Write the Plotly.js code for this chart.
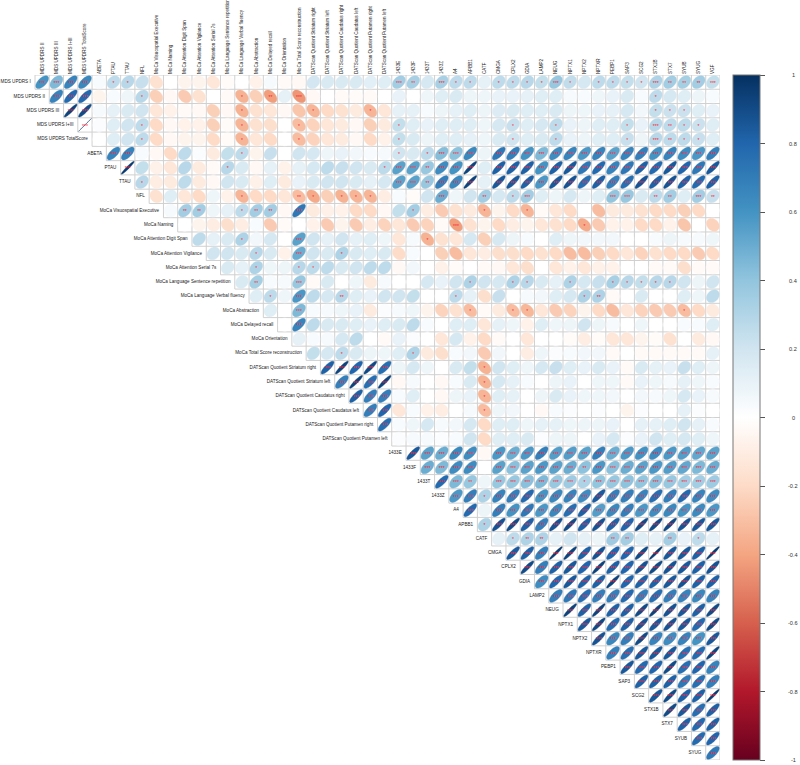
<!DOCTYPE html>
<html>
<head>
<meta charset="utf-8">
<script src="https://cdn.plot.ly/plotly-3.0.1.min.js"></script>
<style>html,body{margin:0;padding:0;background:#fff}#chart{width:800px;height:765px}</style>
</head>
<body>
<div id="chart"></div>
<script>
const labels = ["MDS UPDRS I","MDS UPDRS II","MDS UPDRS III","MDS UPDRS I+III","MDS UPDRS TotalScore","ABETA","PTAU","TTAU","NFL",
"MoCa Visuospatial Executive","MoCa Naming","MoCa Attention Digit Span","MoCa Attention Vigilance","MoCa Attention Serial 7s","MoCa Language Sentence repetition","MoCa Language Verbal fluency","MoCa Abstraction","MoCa Delayed recall","MoCa Orientation","MoCa Total Score reconstruction",
"DATScan Quotient Striatum right","DATScan Quotient Striatum left","DATScan Quotient Caudatus right","DATScan Quotient Caudatus left","DATScan Quotient Putamen right","DATScan Quotient Putamen left",
"1433E","1433F","1433T","1433Z","A4","APBB1","CATF","CMGA","CPLX2","GDIA","LAMP2","NEUG","NPTX1","NPTX2","NPTXR","PEBP1","SAP3","SCG2","STX1B","STX7","SYUB","SYUG","VGF"];

// correlation of each row variable with the variables to its right
const r00=[.6,.45,.67,.65,.03,.26,.28,.23, -.16,0,-.06,-.06,-.14,-.02,0,-.07,.04,-.03,-.04, .19,.16,.16,.16,.12,.14, .35,.33,.18,.33,.26,.26,.11, .26,.26,.28,.24,.38,.25,.18,.26,.26,.24,.2,.31,.35,.34,.35,.24];
const r01=[.67,.78,.78,-.06,.03,.07,.28, -.24,-.04,-.26,-.16,0,-.03,-.35,-.24,-.42,.11,-.44, -.04,0,-.03,-.02,-.03,0, .1,0,.07,.14,.16,.08,.07, .1,.1,.11,.14,.14,.04,.03,.07,.1,.16,.03,.26,.18,.14,.08,.03];
const r02=[.93,.9,.04,.11,.16,.2, -.14,-.07,-.03,-.04,-.24,-.04,-.35,-.16,-.14,-.04,-.28, -.34,-.2,-.16,-.11,-.34,-.14, .11,.11,.03,.08,.11,.14,.08, .15,.16,.14,.14,.16,.08,.07,.1,.11,.18,.06,.24,.22,.22,.14,.1];
const r03=[1,.02,.14,.2,.26, -.2,-.04,-.07,-.07,-.24,-.02,-.34,-.16,-.18,0,-.31, -.23,-.14,-.11,-.04,-.24,-.11, .24,.14,.1,.14,.14,.14,.07, .18,.23,.14,.18,.26,.1,.08,.14,.14,.24,.1,.28,.26,.26,.22,.14];
const r04=[0,.14,.2,.26, -.2,-.04,-.06,-.06,-.2,-.02,-.34,-.14,-.2,0,-.31, -.23,-.14,-.11,-.04,-.2,-.07, .24,.16,.08,.14,.14,.11,.07, .16,.2,.14,.16,.26,.1,.08,.14,.14,.23,.08,.28,.26,.26,.23,.14];
const r05=[.67,.67,.03, -.04,-.2,.26,.02,-.11,.24,.26,-.06,.23,0,.2, .18,.07,.1,.06,.03,.04, .2,.16,.26,.43,.41,.65,.08, .72,.69,.6,.45,.63,.67,.58,.67,.54,.67,.69,.6,.67,.63,.58,.69];
const r06=[.96,.24, -.08,-.14,.28,-.11,-.03,.28,.16,-.04,.11,-.07,.11, .18,.26,.23,.2,.16,.26, .54,.54,.38,.63,.6,.93,.14, .82,.82,.82,.6,.82,.85,.72,.78,.67,.72,.82,.78,.85,.8,.72,.85];
const r07=[.28, -.1,-.11,.26,-.11,-.04,.2,.16,-.08,.14,-.11,.1, .16,.2,.2,.16,.11,.18, .54,.54,.38,.69,.65,.93,.11, .85,.85,.82,.58,.85,.87,.76,.82,.69,.76,.87,.82,.87,.82,.78,.82];
const r08=[-.16,.14,-.14,-.2,.07,-.07,-.34,-.2,-.2,-.14,-.31, -.38,-.24,-.35,-.34,-.34,-.1, .03,-.02,.2,.5,.07,.2,.35, .18,.26,.35,.14,.08,.18,.08,.14,.4,.38,.16,.26,.35,.14,.35,.23];
const r09=[.04,.35,.35,.07,.11,.26,.35,.35,-.04,.72, -.11,-.08,-.07,-.2,-.2,-.04, .24,.35,-.1,-.26,-.16,-.11,-.34, -.06,-.2,-.34,-.03,-.14,-.2,0,-.31,-.11,-.11,-.16,-.2,-.2,-.24,-.2,0];
const r10=[0,-.06,-.1,-.18,-.1,.03,-.26,-.03,0, -.07,-.26,-.06,-.26,-.1,-.23, -.14,-.26,-.23,-.03,-.42,-.16,-.06, -.2,-.1,-.06,-.14,-.16,-.2,-.38,-.26,-.07,-.07,-.2,-.2,-.07,-.28,0,-.23];
const r11=[.26,.11,.16,.31,.06,.18,0,.54, .2,.11,.2,.11,.14,.07, -.14,.04,-.35,-.16,-.14,.18,-.24, .18,.08,.03,0,.14,.07,.06,.06,.06,0,0,.03,.08,.04,.04,.07];
const r12=[.2,.2,.16,.28,.16,-.07,.5, .2,.16,.31,.16,.14,.16, -.19,.03,0,-.24,-.31,-.14,-.1, -.18,-.18,-.2,-.16,-.2,-.31,-.31,-.24,-.2,-.14,-.23,-.16,-.2,-.2,-.26,-.2];
const r13=[.16,.11,.31,.07,.08,.28, .26,.26,.16,.2,.26,.26, -.04,.06,0,-.08,-.02,0,-.03, -.04,-.14,-.18,0,-.14,-.07,-.14,-.08,-.07,0,0,-.03,-.03,-.18,-.03,-.03];
const r14=[.16,.34,.03,.04,.38, -.03,.16,0,.07,-.11,.04, 0,0,.18,.1,.2,.31,.2, .18,.31,.28,.16,.11,.31,.18,.23,.33,.28,.24,.28,.28,.2,.08,.2];
const r15=[.14,.26,.07,.58, .26,.18,.28,.14,.1,.2, .2,.24,0,0,.26,.11,-.18, .23,0,.04,.06,.14,.18,.31,.31,-.03,0,.16,0,0,.14,.07,.26];
const r16=[.14,0,.45, .03,.04,.07,.1,-.11,.02, .04,.07,-.06,-.23,-.16,-.31,-.03, -.11,-.31,-.33,-.14,-.26,-.23,-.06,-.2,-.31,-.14,-.23,-.26,-.26,-.31,-.2,-.11];
const r17=[0,.67, .26,.16,.16,.14,.1,.14, .16,.26,.03,0,.14,.14,-.14, .11,.07,-.07,.14,.07,.08,.2,.08,.04,0,.07,0,0,.03,.03,.14];
const r18=[.11, .03,.04,.18,.26,0,-.03, .1,.02,0,-.14,.18,-.07,-.2, -.03,0,-.14,0,0,-.02,-.1,-.02,-.14,-.14,-.06,-.02,-.16,0,-.11,-.04];
const r19=[.24,.18,.26,.16,.08,.07, .14,.31,-.11,-.18,.03,.06,-.26, .06,0,-.1,.07,.02,.03,.06,.06,-.03,0,-.03,-.03,-.03,-.03,-.03,.11];
const r20=[.82,.93,.8,.91,.76, .08,.18,.07,0,.16,.24,-.35, .2,.14,.07,.18,.23,.14,.1,.16,.1,-.03,.16,.11,.1,.23,.14,.08];
const r21=[.69,.93,.76,.93, -.04,.04,0,-.04,.03,.16,-.35, .18,.11,.03,0,.08,.1,0,.07,.07,-.03,.1,.07,.04,.11,.07,.03];
const r22=[.82,.69,.69, .03,.14,0,-.04,.08,.1,-.34, .14,.11,0,.08,.16,.1,.07,.07,.06,0,.06,.04,.07,.18,.1,.04];
const r23=[.69,.8, -.14,.03,-.07,-.1,0,.04,-.31, .07,.06,0,-.04,.03,.02,0,.02,0,-.06,.02,0,0,.11,.02,0];
const r24=[.76, .03,.07,.18,.04,.06,.18,-.2, .14,.14,.07,.11,.11,.07,.08,.08,.1,0,.11,.11,.14,.2,.11,.03];
const r25=[.02,.04,.04,.02,.03,.2,-.2, .14,.14,.16,.02,.08,.08,0,.1,.18,.02,.1,.2,.14,.18,.14,.07];
const r26=[.85,.54,.5,.65,.63,-.04, .58,.5,.58,.69,.56,.56,.54,.69,.5,.58,.61,.63,.58,.56,.52,.54];
const r27=[.5,.45,.63,.63,0, .54,.42,.54,.58,.54,.5,.41,.58,.42,.5,.54,.58,.56,.52,.45,.5];
const r28=[.78,.45,.38,.07, .38,.38,.42,.45,.38,.36,.31,.4,.38,.41,.4,.42,.38,.35,.35,.36];
const r29=[.58,.69,.31, .67,.69,.78,.6,.65,.67,.63,.84,.69,.69,.67,.76,.69,.78,.67,.63];
const r30=[.78,.08, .69,.6,.72,.58,.65,.76,.82,.56,.65,.69,.58,.63,.65,.6,.64,.58];
const r31=[.31, .87,.9,.82,.69,.87,.9,.82,.87,.82,.8,.9,.9,.91,.87,.85,.85];
const r32=[.11,.26,.31,.31,.11,.2,.11,.08,.36,.35,.14,.11,.35,.1,.26,.11];
const r33=[.84,.82,.69,.96,.93,.82,.87,.8,.8,.9,.96,.85,.85,.82,.96];
const r34=[.9,.69,.82,.85,.8,.93,.82,.8,.87,.9,.87,.85,.82,.87];
const r35=[.63,.8,.85,.82,.82,.93,.8,.82,.82,.85,.87,.82,.82];
const r36=[.69,.72,.76,.69,.69,.78,.69,.76,.69,.67,.65,.67];
const r37=[.93,.82,.93,.82,.82,.9,.93,.87,.85,.82,.9];
const r38=[.85,.91,.78,.82,.87,.85,.87,.85,.78,.9];
const r39=[.87,.65,.69,.9,.67,.63,.67,.6,.85];
const r40=[.69,.76,.85,.85,.85,.76,.78,.93];
const r41=[.85,.78,.8,.9,.76,.8,.67];
const r42=[.82,.82,.82,.72,.76,.69];
const r43=[.85,.9,.82,.82,.96];
const r44=[.9,.85,.76,.82];
const r45=[.82,.78,.82];
const r46=[.78,.8];
const r47=[.72];
const valueRows=[r00,r01,r02,r03,r04,r05,r06,r07,r08,r09,r10,r11,r12,r13,r14,r15,r16,r17,r18,r19,r20,r21,r22,r23,r24,r25,r26,r27,r28,r29,r30,r31,r32,r33,r34,r35,r36,r37,r38,r39,r40,r41,r42,r43,r44,r45,r46,r47];

// number of significance stars in each of those cells
const starRows=[
"33330110"+"00000000000"+"000000"+"3203110"+"1111310111132223",
"3330001"+"00000010203"+"000000"+"0000000"+"0000000000010000",
"330000"+"00000010000"+"100010"+"0000000"+"0000000000011100",
"30001"+"00000010001"+"000000"+"1000000"+"0100100001032110",
"0001"+"00000010001"+"000000"+"1000000"+"0100100001032110",
"330"+"00000010000"+"000000"+"1013330"+"3333333333333333",
"30"+"00000100000"+"000001"+"3323330"+"3333333333333333",
"1"+"00000000000"+"000000"+"3323330"+"3333333333333333",
"00000010002"+"101110"+"0003002"+"0130000033022032",
"0220012203"+"000000"+"0100001"+"0010000000000000",
"000000000"+"000000"+"0000300"+"0000001000000000",
"00010003"+"000000"+"0010000"+"0000000000000000",
"0001003"+"001000"+"0000000"+"0000000000000000",
"001001"+"100000"+"0000000"+"0000000000000000",
"02003"+"000000"+"0000010"+"0110010011111000",
"0103"+"002000"+"0000100"+"0000001200000000",
"003"+"000000"+"0000010"+"0110000000000100",
"03"+"000000"+"0000000"+"0000000000000000",
"0"+"000000"+"0000000"+"0000000000000000",
"001000"+"0100000"+"0000000000000000",
"33333"+"0000001"+"0000000000000000",
"3333"+"0000001"+"0000000000000000",
"333"+"0000001"+"0000000000000000",
"33"+"0000001"+"0000000000000000",
"3"+"0000000"+"0000000000000000",
"0000000"+"0000000000000000",
"333330"+"3333333333333333",
"33330"+"3333332333333333",
"3320"+"3333331333333333",
"331"+"3333333333333333",
"30"+"3333333333333333",
"1"+"3333333333333333",
"0122000022002010",
"333333333333333","33333333333333","3333333333333","333333333333","33333333333","3333333333","333333333","33333333","3333333","333333","33333","3333","333","33","3"];

const ramp = ["#67001F","#B2182B","#D6604D","#F4A582","#FDDBC7","#FFFFFF","#D1E5F0","#92C5DE","#4393C3","#2166AC","#053061"];
const legendTicks = [1,0.8,0.6,0.4,0.2,0,-0.2,-0.4,-0.6,-0.8,-1];

valueRows.forEach((row,i)=>{
  if(row.length!==48-i) throw new Error("values row "+i+" has "+row.length);
  if(starRows[i].length!==48-i) throw new Error("stars row "+i+" has "+starRows[i].length);
});

function hex(h){return [1,3,5].map(k=>parseInt(h.substr(k,2),16));}
function colourOf(v){
  const p=(v+1)/2*(ramp.length-1), a=Math.min(Math.floor(p),ramp.length-2), f=p-a;
  const A=hex(ramp[a]),B=hex(ramp[a+1]);
  return "rgb("+A.map((q,k)=>Math.round(q+(B[k]-q)*f)).join(",")+")";
}

const plotRight=720, cellPx=685/48;
const traces=[];
// cell grid of the upper triangle
const gx=[],gy=[];
for(let k=0;k<=48;k++){
  gx.push(Math.max(k-1,0),48,null); gy.push(k,k,null);
  gx.push(k,k,null); gy.push(0,Math.min(k+1,48),null);
}
traces.push({type:"scatter",mode:"lines",x:gx,y:gy,line:{color:"#d0d0d0",width:1,simplify:false},hoverinfo:"skip",cliponaxis:false,showlegend:false});

// ellipses grouped by value so each colour is one trace
const groups=new Map();
const half=0.45, steps=36;
valueRows.forEach((row,i)=>row.forEach((v,j)=>{
  if(!groups.has(v)) groups.set(v,{x:[],y:[]});
  const g=groups.get(v), d=Math.acos(v), cx=i+j+0.5, cy=i+0.5;
  for(let s=0;s<=steps;s++){
    const t=2*Math.PI*s/steps;
    g.x.push(cx+half*Math.cos(t+d/2));
    g.y.push(cy-half*Math.cos(t-d/2));
  }
  g.x.push(null); g.y.push(null);
}));
groups.forEach((g,v)=>{
  const col=colourOf(v);
  traces.push({type:"scatter",mode:"lines",x:g.x,y:g.y,fill:"toself",fillcolor:col,line:{color:col,width:0.4,simplify:false},name:String(v),hoverinfo:"name",showlegend:false,cliponaxis:false});
});

// significance stars
const sx=[],sy=[],st=[];
starRows.forEach((row,i)=>[...row].forEach((n,j)=>{
  if(n!=="0"){ sx.push(i+j+0.5); sy.push(i+0.5+0.1); st.push("*".repeat(+n)); }
}));
traces.push({type:"scatter",mode:"text",x:sx,y:sy,text:st,textposition:"middle center",textfont:{family:"Liberation Sans",size:5,color:"#ff2030"},hoverinfo:"skip",showlegend:false,cliponaxis:false});

// row labels beside the first cell of each row
const rowNames=labels.slice(0,48);
traces.push({type:"scatter",mode:"text",x:rowNames.map((_,i)=>i-0.3),y:rowNames.map((_,i)=>i+0.5),text:rowNames,textposition:"middle left",textfont:{family:"Liberation Sans",size:4.6,color:"#222"},hoverinfo:"skip",showlegend:false,cliponaxis:false});

// colour legend
traces.push({type:"scatter",mode:"markers",x:[0.5],y:[47.5],hoverinfo:"skip",showlegend:false,
  marker:{size:1,opacity:0,color:[0],cmin:-1,cmax:1,
    colorscale:ramp.map((c,i)=>[i/(ramp.length-1),c]),showscale:true,
    colorbar:{x:733/plotRight,xanchor:"left",y:0.5,yanchor:"middle",len:1,lenmode:"fraction",thickness:27,thicknessmode:"pixels",xpad:0,ypad:0,
      outlinecolor:"#777",outlinewidth:1,tickmode:"array",tickvals:legendTicks,ticks:"outside",ticklen:5,tickcolor:"#555",tickwidth:1,showticklabels:false}}});

const layout={
  width:800,height:765,paper_bgcolor:"#fff",plot_bgcolor:"#fff",showlegend:false,
  margin:{l:0,r:80,t:75,b:5,autoexpand:false},
  font:{family:"Liberation Sans"},
  xaxis:{range:[-35/cellPx,48],side:"top",showgrid:false,zeroline:false,showline:false,ticks:"",tickmode:"array",
    tickvals:labels.slice(1).map((_,i)=>i+0.5),ticktext:labels.slice(1),tickangle:-90,tickfont:{family:"Liberation Sans",size:4.6,color:"#222"},automargin:false},
  yaxis:{range:[48,0],showgrid:false,zeroline:false,showline:false,showticklabels:false,ticks:""},
  annotations:legendTicks.map(v=>({xref:"paper",yref:"paper",x:793/plotRight,y:(v+1)/2,text:String(v),showarrow:false,xanchor:"center",yanchor:"middle",font:{family:"Liberation Sans",size:5.6,color:"#333"}}))
};
Plotly.newPlot("chart",traces,layout,{displayModeBar:false});
</script>
</body>
</html>
